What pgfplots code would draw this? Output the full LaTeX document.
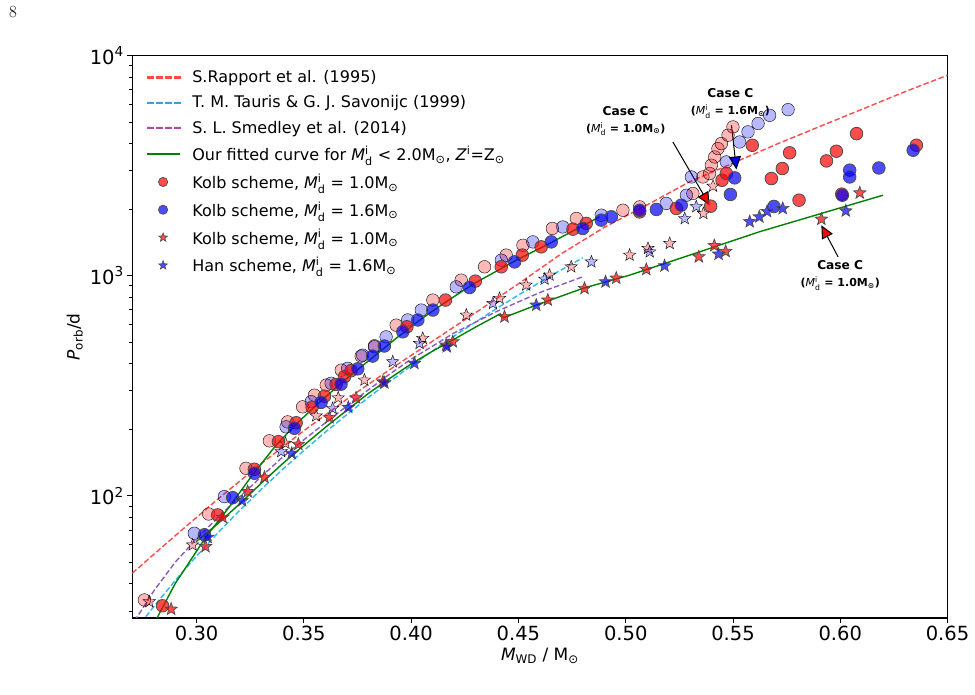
\documentclass[border=0pt]{standalone}
\usepackage{pgfplots}
\pgfplotsset{compat=1.18}
\usepackage{amsmath}
\usepackage{fontspec}
\setsansfont{DejaVu Sans}
\usetikzlibrary{arrows.meta}
\definecolor{rdash}{RGB}{255,75,75}
\definecolor{cdash}{RGB}{45,185,235}
\definecolor{pdash}{RGB}{140,90,190}
\definecolor{gline}{RGB}{0,128,0}
\newcommand{\Msun}{M$_{\text{⊙}}$}
\newcommand{\Mdi}{\textit{M}$^{\text{i}}_{\text{d}}$}
\pgfdeclareplotmark{fstar}{%
  \pgfpathmoveto{\pgfpointpolar{90}{\pgfplotmarksize}}%
  \pgfpathlineto{\pgfpointpolar{126}{0.42\pgfplotmarksize}}%
  \pgfpathlineto{\pgfpointpolar{162}{\pgfplotmarksize}}%
  \pgfpathlineto{\pgfpointpolar{198}{0.42\pgfplotmarksize}}%
  \pgfpathlineto{\pgfpointpolar{234}{\pgfplotmarksize}}%
  \pgfpathlineto{\pgfpointpolar{270}{0.42\pgfplotmarksize}}%
  \pgfpathlineto{\pgfpointpolar{306}{\pgfplotmarksize}}%
  \pgfpathlineto{\pgfpointpolar{342}{0.42\pgfplotmarksize}}%
  \pgfpathlineto{\pgfpointpolar{18}{\pgfplotmarksize}}%
  \pgfpathlineto{\pgfpointpolar{54}{0.42\pgfplotmarksize}}%
  \pgfpathclose
  \pgfusepathqfillstroke}
\newcommand{\legdash}[1]{\path (0pt,0pt) (43pt,0pt); \fill[#1, opacity=1] (0pt,-0.75pt) rectangle (6.5pt,0.75pt) (9pt,-0.75pt) rectangle (15.5pt,0.75pt) (18pt,-0.75pt) rectangle (24.5pt,0.75pt) (27pt,-0.75pt) rectangle (33pt,0.75pt);}
\pgfplotsset{
  fr/.style={only marks, mark=*, mark size=6.3pt, mark options={draw=none, fill=red, fill opacity=0.28}},
  fb/.style={only marks, mark=*, mark size=6.3pt, mark options={draw=none, fill=blue, fill opacity=0.28}},
  sr/.style={only marks, mark=*, mark size=6.3pt, mark options={draw=black!70, line width=0.8pt, fill=red, fill opacity=0.7}},
  sb/.style={only marks, mark=*, mark size=6.3pt, mark options={draw=black!70, line width=0.8pt, fill=blue, fill opacity=0.7}},
  frs/.style={only marks, mark=fstar, mark size=6.5pt, mark options={draw=none, fill=red, fill opacity=0.28}},
  fbs/.style={only marks, mark=fstar, mark size=6.5pt, mark options={draw=none, fill=blue, fill opacity=0.28}},
  srs/.style={only marks, mark=fstar, mark size=6.5pt, mark options={draw=black!70, line width=0.7pt, fill=red, fill opacity=0.7}},
  sbs/.style={only marks, mark=fstar, mark size=6.5pt, mark options={draw=black!70, line width=0.7pt, fill=blue, fill opacity=0.7}},
  dl/.style={line width=1.4pt, dash pattern=on 5.5pt off 2.5pt, no marks},
}
\begin{document}
\sffamily
\begin{tikzpicture}
\path[use as bounding box] (-132.3pt,-77pt) rectangle (842.7pt,618pt);
\begin{axis}[
  at={(0,0)}, anchor=south west,
  scale only axis, width=815.2pt, height=562.3pt,
  ymode=log, xmin=0.27, xmax=0.65, ymin=27.9, ymax=10000,
  xtick={0.30,0.35,0.40,0.45,0.50,0.55,0.60,0.65},
  xticklabels={0.30,0.35,0.40,0.45,0.50,0.55,0.60,0.65},
  ytick={100,1000,10000},
  yticklabels={10\textsuperscript{2},10\textsuperscript{3},10\textsuperscript{4}},
  minor ytick={30,40,50,60,70,80,90,200,300,400,500,600,700,800,900,2000,3000,4000,5000,6000,7000,8000,9000},
  tick align=outside, tick pos=left,
  major tick length=5pt, minor tick length=3pt,
  tick style={black, line width=0.9pt},
  axis line style={line width=1.1pt},
  ticklabel style={font=\fontsize{19.5}{23}\selectfont},
  label style={font=\fontsize{17}{20}\selectfont},
  xlabel={\textit{M}$_{\text{WD}}$ / M$_{\text{⊙}}$},
  ylabel={\textit{P}$_{\text{orb}}$/d},
  legend cell align=left,
  legend style={draw=none, fill=none, at={(0.0146,0.981)}, anchor=north west,
    font=\fontsize{16}{19}\selectfont, row sep=7.5pt, inner sep=2pt},
]
% faded markers
\addplot[fr, forget plot] coordinates {(0.2756,33.7)(0.3056,82.8)(0.3230,133.6)(0.3339,178)(0.3424,217)(0.3494,254)(0.3549,287)(0.3604,319)(0.3674,373)(0.3767,432)(0.3829,481)(0.3930,597)(0.4101,776)(0.4233,956)(0.4342,1099)(0.4443,1242)(0.4521,1377)(0.4658,1641)(0.4770,1822)(0.4987,1986)(0.5065,2056)(0.5313,2366)(0.5360,2813)(0.5391,2915)(0.5399,3181)(0.5415,3467)(0.5430,3784)(0.5446,3988)(0.5477,4353)(0.5500,4746)};
\addplot[fb, forget plot] coordinates {(0.2989,67.7)(0.3129,99.3)(0.3417,206)(0.3534,268)(0.3627,325)(0.3704,380)(0.3774,436)(0.3829,476)(0.3883,528)(0.3984,630)(0.4047,699)(0.4210,891)(0.4420,1178)(0.4567,1426)(0.4707,1667)(0.4886,1886)(0.5189,2133)(0.5283,2323)(0.5306,2813)(0.5469,3292)(0.5531,4055)(0.5570,4508)(0.5617,4920)(0.5671,5360)(0.5757,5685)};
\addplot[frs, forget plot] coordinates {(0.2779,33.1)(0.2981,59.9)(0.3414,173.5)(0.3557,231)(0.3660,279)(0.3782,336)(0.4054,520)(0.4257,663)(0.4412,790)(0.4536,908)(0.4645,1007)(0.4746,1099)(0.5018,1242)(0.5104,1332)(0.5205,1403)(0.5362,1920)(0.5407,2554)};
\addplot[fbs, forget plot] coordinates {(0.3394,159)(0.3634,250)(0.3914,407)(0.4039,493)(0.4381,749)(0.4622,966)(0.4840,1157)(0.5112,1285)(0.5275,1820)(0.5329,2061)};
% solid markers
\addplot[sr, forget plot] coordinates {(0.2841,31.7)(0.3098,82.0)(0.3269,132.2)(0.3381,176.4)(0.3464,215)(0.3538,253)(0.3596,284)(0.3650,321)(0.3689,348)(0.3720,371)(0.3980,587)(0.4160,776)(0.4299,946)(0.4420,1099)(0.4518,1242)(0.4606,1354)(0.4754,1629)(0.4816,1730)(0.5065,1952)(0.5236,2023)(0.5396,2072)(0.5449,2716)(0.5469,2915)(0.5590,3919)(0.5679,2767)(0.5730,3073)(0.5764,3622)(0.5808,2206)(0.5936,3327)(0.5982,3681)(0.6076,4426)(0.6007,2350)(0.6355,3919)};
\addplot[sb, forget plot] coordinates {(0.3036,66.6)(0.3168,98.2)(0.3269,126.8)(0.3456,203)(0.3580,266)(0.3673,322)(0.3751,378)(0.3820,432)(0.3875,480)(0.3961,557)(0.4031,630)(0.4101,699)(0.4272,885)(0.4482,1157)(0.4653,1426)(0.4800,1641)(0.4886,1791)(0.4933,1854)(0.5065,1986)(0.5143,2002)(0.5259,2094)(0.5488,2342)(0.5508,2786)(0.5691,2066)(0.6044,3020)(0.6044,2813)(0.6010,2323)(0.6180,3090)(0.6340,3721)};
\addplot[srs, forget plot] coordinates {(0.2881,30.6)(0.3041,58.9)(0.3121,80.0)(0.3238,104.6)(0.3316,121.6)(0.3474,171.7)(0.3619,226.7)(0.3743,279)(0.3868,330)(0.4163,484.6)(0.4194,501.7)(0.4435,651.5)(0.4637,776)(0.4808,876.5)(0.4956,976)(0.5096,1069)(0.5341,1220)(0.5413,1371)(0.5466,1291)(0.5912,1809)(0.6091,2381)};
\addplot[sbs, forget plot] coordinates {(0.3051,64.9)(0.3212,95.2)(0.3443,156.2)(0.3707,252.7)(0.3875,326.9)(0.4015,400.4)(0.4166,476.2)(0.4583,736)(0.4906,939)(0.5181,1110)(0.5433,1255)(0.5578,1762)(0.5623,1853)(0.5659,1960)(0.5732,2023)(0.6026,1972)};
% lines
\addplot[dl, rdash, forget plot] coordinates {(0.27,44.6)(0.29,66)(0.31,97)(0.33,140)(0.35,198)(0.37,275)(0.39,375)(0.41,505)(0.43,680)(0.45,920)(0.47,1260)(0.49,1660)(0.51,2100)(0.53,2680)(0.55,3250)(0.57,3950)(0.59,4750)(0.61,5700)(0.63,6850)(0.65,8150)};
\addplot[dl, cdash, forget plot] coordinates {(0.274,26.5)(0.28,31.4)(0.29,41.3)(0.30,53.4)(0.31,68.2)(0.32,85.9)(0.33,106.9)(0.34,131.8)(0.35,161)(0.36,195)(0.37,234)(0.38,280)(0.39,331)(0.40,390)(0.41,456)(0.42,532)(0.43,617)(0.44,712)(0.45,818)(0.46,935)(0.47,1065)(0.48,1208)};
\addplot[dl, pdash, forget plot] coordinates {(0.271,27)(0.28,37)(0.29,50)(0.30,64)(0.31,80)(0.32,99)(0.33,122)(0.34,150)(0.35,180)(0.36,215)(0.37,256)(0.38,303)(0.39,358)(0.40,418)(0.42,550)(0.44,690)(0.46,840)(0.48,990)};
\addplot[gline, line width=1.4pt, no marks, forget plot] coordinates {(0.2811,27.4)(0.2900,40)(0.3044,65.3)(0.3153,89.4)(0.3261,125)(0.3370,170)(0.3464,212)(0.3557,258)(0.3681,330)(0.3800,410)(0.3930,520)(0.4050,640)(0.4163,762)(0.4287,915)(0.4490,1178)(0.4645,1403)(0.4878,1854)};
\addplot[gline, line width=1.4pt, no marks, forget plot] coordinates {(0.2997,62)(0.3100,75)(0.3200,92)(0.3300,114)(0.3400,140)(0.3500,170)(0.3600,205)(0.3700,245)(0.3800,292)(0.3900,342)(0.4000,398)(0.4100,455)(0.4200,515)(0.4300,585)(0.4415,672)(0.4430,645)(0.4583,736)(0.4800,877)(0.5018,1007)(0.5252,1199)(0.5623,1585)(0.6199,2323)};
% legend
\addlegendimage{legend image code/.code={\legdash{red!72!white}}}
\addlegendentry{S.Rapport et al. (1995)}
\addlegendimage{legend image code/.code={\legdash{cyan!75!blue!80!white}}}
\addlegendentry{T. M. Tauris \& G. J. Savonijc (1999)}
\addlegendimage{legend image code/.code={\legdash{violet!70!white}}}
\addlegendentry{S. L. Smedley et al. (2014)}
\addlegendimage{legend image code/.code={\path (0pt,0pt) (43pt,0pt); \draw[draw=gline, line width=1.4pt, solid] (0pt,0pt) -- (33pt,0pt);}}
\addlegendentry{Our fitted curve for \Mdi{} < 2.0\Msun, \textit{Z}$^{\text{i}}$=Z$_{\text{⊙}}$}
\addlegendimage{legend image code/.code={\path (0pt,0pt) (43pt,0pt); \draw[only marks, mark=*, mark size=4.6pt, mark options={draw=black!70, line width=0.7pt, fill=red, fill opacity=0.7}] plot coordinates {(16pt,0pt)};}}
\addlegendentry{Kolb scheme, \Mdi{} = 1.0\Msun}
\addlegendimage{legend image code/.code={\path (0pt,0pt) (43pt,0pt); \draw[only marks, mark=*, mark size=4.6pt, mark options={draw=black!70, line width=0.7pt, fill=blue, fill opacity=0.7}] plot coordinates {(16pt,0pt)};}}
\addlegendentry{Kolb scheme, \Mdi{} = 1.6\Msun}
\addlegendimage{legend image code/.code={\path (0pt,0pt) (43pt,0pt); \draw[only marks, mark=fstar, mark size=4.6pt, mark options={draw=black!70, line width=0.6pt, fill=red, fill opacity=0.7}] plot coordinates {(16pt,0pt)};}}
\addlegendentry{Kolb scheme, \Mdi{} = 1.0\Msun}
\addlegendimage{legend image code/.code={\path (0pt,0pt) (43pt,0pt); \draw[only marks, mark=fstar, mark size=4.6pt, mark options={draw=black!70, line width=0.6pt, fill=blue, fill opacity=0.7}] plot coordinates {(16pt,0pt)};}}
\addlegendentry{Han scheme, \Mdi{} = 1.6\Msun}
% annotations
\draw[line width=1pt, -{Triangle[length=13pt,width=12pt,fill=red]}] (axis cs:0.5220,4055) -- (axis cs:0.5391,2094);
\draw[line width=1pt, -{Triangle[length=13pt,width=12pt,fill=blue]}] (axis cs:0.5493,4830) -- (axis cs:0.5516,3041);
\draw[line width=1pt, -{Triangle[length=13pt,width=12pt,fill=red]}] (axis cs:0.5990,1219) -- (axis cs:0.5912,1698);
\node[align=center, inner sep=1pt, font=\bfseries\fontsize{12.2}{17}\selectfont] at (axis cs:0.5000,5050) {Case C\\{\fontsize{11}{13}\selectfont(\textmd{\Mdi} = 1.0\Msun)}};
\node[align=center, inner sep=1pt, font=\bfseries\fontsize{12.2}{17}\selectfont] at (axis cs:0.5488,6050) {Case C\\{\fontsize{11}{13}\selectfont(\textmd{\Mdi} = 1.6\Msun)}};
\node[align=center, inner sep=1pt, font=\bfseries\fontsize{12.2}{17}\selectfont] at (axis cs:0.6000,1005) {Case C\\{\fontsize{11}{13}\selectfont(\textmd{\Mdi} = 1.0\Msun)}};
\end{axis}
\node[font=\rmfamily\fontsize{17}{19}\selectfont] at (-119.3pt,606pt) {8};
\end{tikzpicture}
\end{document}
